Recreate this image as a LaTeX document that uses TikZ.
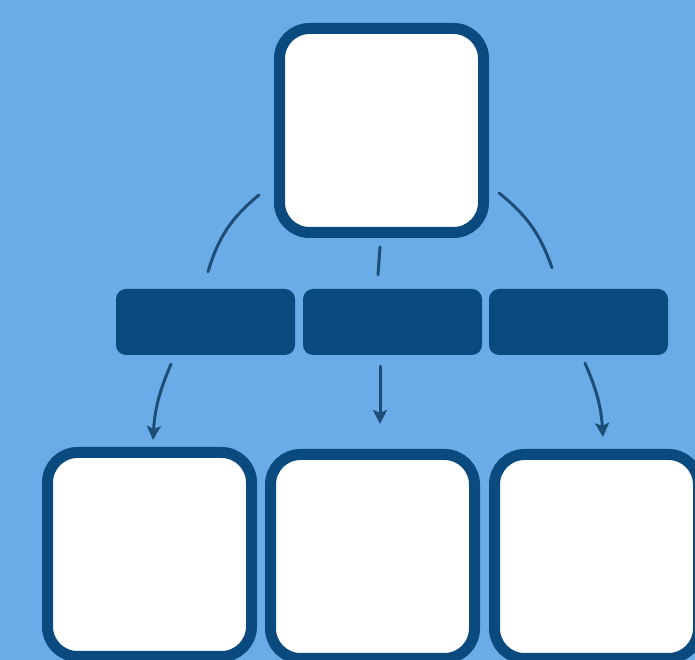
\documentclass[tikz,border=0pt]{standalone}
\usepackage{tikz}
\usetikzlibrary{arrows.meta}
\definecolor{skyback}{HTML}{6AACE8}
\definecolor{boxblue}{HTML}{0B4A7F}
\definecolor{linkblue}{HTML}{1D4E75}
\begin{document}
\begin{tikzpicture}[x=1pt, y=1pt,
		card/.style={rectangle, draw=boxblue, fill=white, line width=11pt, rounded corners=30pt, minimum width=204pt, minimum height=204pt, inner sep=0pt},
		bar/.style={rectangle, fill=boxblue, rounded corners=10pt, minimum width=179pt, minimum height=66pt, inner sep=0pt},
		link/.style={draw=linkblue, line width=3pt, line cap=round},
		arrowlink/.style={link, -{Stealth[length=14pt, width=14pt, inset=3pt]}}]
			% Background
			\fill[skyback] (0,0) rectangle (695,660);
			\useasboundingbox (0,0) rectangle (695,660);
			% Nodes
			\node[card] (top) at (381.5,529.5) {};
			\foreach \i/\x in {1/205.5, 2/392.5, 3/578.5} {
				\node[bar] (mid\i) at (\x,338) {};
			}
			\foreach \i/\x/\y in {1/149.5/105.5, 2/372.5/103.5, 3/596.5/103.5} {
				\node[card] (bot\i) at (\x,\y) {};
			}
			% Links
			\draw[link] ([shift={(-15,43)}]top.south west) to[bend right=17] ([shift={(2.5,17)}]mid1.north);
			\draw[link] ([shift={(-1.5,-9)}]top.south) -- ([shift={(-14.5,14)}]mid2.north);
			\draw[link] ([shift={(10,45)}]top.south east) to[bend left=16] ([shift={(-26.5,21)}]mid3.north);
			\draw[arrowlink] ([shift={(-34.5,-9)}]mid1.south) to[bend right=10] ([shift={(3.5,7)}]bot1.north);
			\draw[arrowlink] ([shift={(-12.5,-11)}]mid2.south) -- ([shift={(7.5,25)}]bot2.north);
			\draw[arrowlink] ([shift={(6.5,-8)}]mid3.south) to[bend left=10] ([shift={(6.5,12)}]bot3.north);
		\end{tikzpicture}
\end{document}
